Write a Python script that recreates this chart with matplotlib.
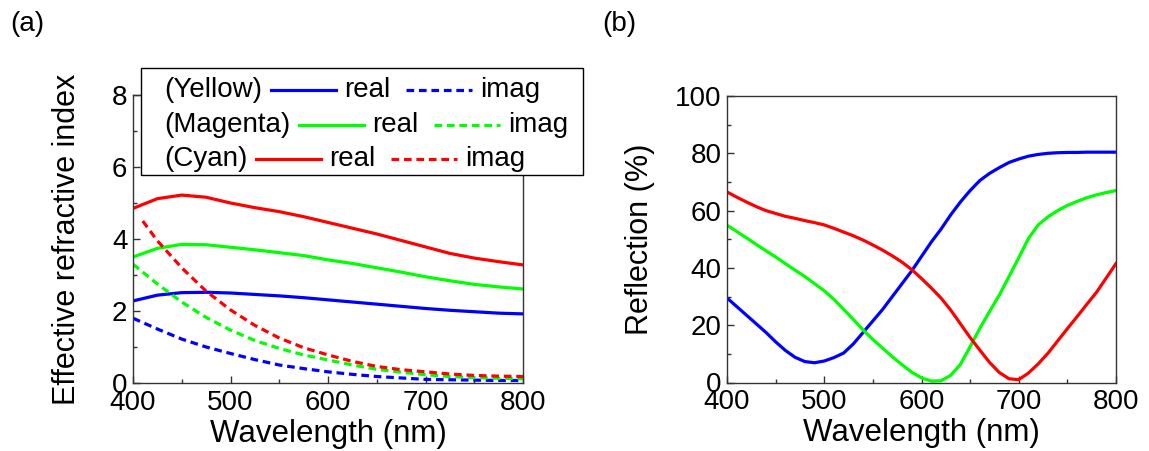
import numpy as np
import matplotlib
matplotlib.use('Agg')
import matplotlib.pyplot as plt
from matplotlib.lines import Line2D
from matplotlib.ticker import MultipleLocator
from matplotlib.offsetbox import TextArea, DrawingArea, HPacker, VPacker, AnchoredOffsetbox

plt.rcParams['font.family'] = ['Liberation Sans', 'DejaVu Sans']

# (a) effective refractive index
wl_a = [400, 425, 450, 475, 500, 525, 550, 575, 600, 625, 650, 675, 700, 725, 750, 775, 800]
yellow_real = [2.28, 2.44, 2.51, 2.52, 2.50, 2.46, 2.42, 2.37, 2.31, 2.25, 2.19, 2.13, 2.07, 2.02, 1.98, 1.94, 1.92]
yellow_imag = [1.80, 1.50, 1.22, 1.00, 0.82, 0.65, 0.50, 0.40, 0.31, 0.24, 0.18, 0.14, 0.10, 0.09, 0.08, 0.07, 0.07]
magenta_real = [3.50, 3.74, 3.85, 3.84, 3.77, 3.70, 3.62, 3.54, 3.42, 3.32, 3.20, 3.08, 2.95, 2.84, 2.74, 2.67, 2.61]
magenta_imag = [3.30, 2.75, 2.25, 1.82, 1.47, 1.18, 0.96, 0.78, 0.64, 0.50, 0.38, 0.30, 0.23, 0.18, 0.15, 0.13, 0.12]
cyan_real = [4.85, 5.12, 5.22, 5.16, 5.00, 4.87, 4.76, 4.62, 4.46, 4.30, 4.14, 3.96, 3.78, 3.60, 3.47, 3.37, 3.28]
wl_cyan_imag = [410, 425, 450, 475, 500, 525, 550, 575, 600, 625, 650, 675, 700, 725, 750, 775, 800]
cyan_imag = [4.50, 3.95, 3.20, 2.55, 2.03, 1.60, 1.25, 0.98, 0.78, 0.60, 0.46, 0.37, 0.31, 0.25, 0.21, 0.19, 0.18]

# (b) reflection (%)
wl_b = [400, 410, 420, 430, 440, 450, 460, 470, 480, 490, 500, 510, 520, 530, 540, 550, 560, 570, 580, 590,
        600, 610, 620, 630, 640, 650, 660, 670, 680, 690, 700, 710, 720, 730, 740, 750, 760, 770, 780, 790, 800]
refl_yellow = [29.5, 26.5, 23.5, 20.5, 17.5, 14.2, 11.2, 8.8, 7.3, 6.9, 7.5, 8.7, 10.3, 13.5, 17.5, 21.5, 25.5, 30.0, 34.5, 39.0,
               44.0, 49.0, 53.5, 58.5, 63.0, 67.0, 70.5, 73.0, 75.0, 76.8, 78.0, 79.0, 79.6, 80.0, 80.2, 80.3, 80.3, 80.4, 80.4, 80.4, 80.4]
refl_magenta = [54.9, 52.7, 50.5, 48.2, 46.0, 43.8, 41.5, 39.2, 37.0, 34.5, 32.0, 29.0, 25.5, 22.0, 18.3, 15.0, 12.0, 9.0, 6.2, 3.6,
                1.6, 0.5, 0.6, 2.5, 6.3, 12.5, 18.9, 24.8, 30.5, 37.0, 43.5, 50.3, 55.0, 57.8, 60.0, 61.8, 63.2, 64.5, 65.5, 66.3, 67.0]
refl_cyan = [66.5, 64.7, 63.0, 61.4, 60.0, 59.0, 58.0, 57.3, 56.5, 55.8, 55.0, 53.8, 52.5, 51.2, 49.7, 48.0, 46.2, 44.2, 42.0, 39.4,
             36.3, 33.0, 29.5, 25.3, 20.5, 15.7, 11.3, 7.0, 3.5, 1.3, 1.0, 3.3, 6.5, 10.2, 14.5, 18.8, 23.0, 27.3, 31.5, 36.5, 41.5]

names = ['(Yellow)', '(Magenta)', '(Cyan)']
colors = ['#0000ff', '#00ff00', '#ff0000']

W, H = 1149, 451
fig = plt.figure(figsize=(W / 100, H / 100), dpi=100)
axa = fig.add_axes([133 / W, 1 - 383 / H, 390 / W, 288 / H])
axb = fig.add_axes([727 / W, 1 - 382.5 / H, 389 / W, 286.5 / H])

lw = 2.3
dash = (0, (2.4, 1.5))

axa.plot(wl_a, yellow_real, color=colors[0], lw=lw)
axa.plot(wl_a, yellow_imag, color=colors[0], lw=lw, linestyle=dash)
axa.plot(wl_a, magenta_real, color=colors[1], lw=lw)
axa.plot(wl_a, magenta_imag, color=colors[1], lw=lw, linestyle=dash)
axa.plot(wl_a, cyan_real, color=colors[2], lw=lw)
axa.plot(wl_cyan_imag, cyan_imag, color=colors[2], lw=lw, linestyle=dash)

axb.plot(wl_b, refl_yellow, color=colors[0], lw=lw)
axb.plot(wl_b, refl_magenta, color=colors[1], lw=lw)
axb.plot(wl_b, refl_cyan, color=colors[2], lw=lw)

axa.set_xlim(400, 800)
axa.set_ylim(0, 8)
axa.yaxis.set_major_locator(MultipleLocator(2))
axa.yaxis.set_minor_locator(MultipleLocator(1))
axb.set_xlim(400, 800)
axb.set_ylim(0, 100)
axb.yaxis.set_major_locator(MultipleLocator(20))
axb.yaxis.set_minor_locator(MultipleLocator(10))

for ax in (axa, axb):
    ax.xaxis.set_major_locator(MultipleLocator(100))
    ax.xaxis.set_minor_locator(MultipleLocator(50))
    ax.tick_params(which='both', direction='in', top=False, right=False,
                   labelsize=20, width=1, color='#333333')
    ax.tick_params(which='major', length=5)
    ax.tick_params(which='minor', length=3)
    ax.tick_params(axis='x', pad=5)
    ax.tick_params(axis='y', pad=4)
    for s in ax.spines.values():
        s.set_color('#333333')
        s.set_linewidth(1)
    ax.set_xlabel('Wavelength (nm)', fontsize=22.5)

axa.set_ylabel('Effective refractive index', fontsize=22)
axb.set_ylabel('Reflection (%)', fontsize=22)
axa.xaxis.set_label_coords(0.5, -0.125)
axb.xaxis.set_label_coords(0.5, -0.125)
axa.yaxis.set_label_coords(-0.13, 0.5)
axb.yaxis.set_label_coords(-0.185, 0.5)

fig.text(10 / W, 1 - 11 / H, '(a)', fontsize=20, va='top')
fig.text(602 / W, 1 - 11 / H, '(b)', fontsize=20, va='top')

# legend built row by row
pt = 0.72  # points per pixel
rows = []
for name, c in zip(names, colors):
    d1 = DrawingArea(82 * pt, 10 * pt)
    d1.add_artist(Line2D([9 * pt, 74 * pt], [5 * pt, 5 * pt], color=c, lw=lw))
    d2 = DrawingArea(90 * pt, 10 * pt)
    d2.add_artist(Line2D([16 * pt, 82 * pt], [5 * pt, 5 * pt], color=c, lw=lw, linestyle=dash))
    row = HPacker(children=[TextArea(name, textprops=dict(fontsize=20)), d1,
                            TextArea('real', textprops=dict(fontsize=20)), d2,
                            TextArea('imag', textprops=dict(fontsize=20))],
                  sep=0, pad=0, align='center')
    rows.append(row)
vp = VPacker(children=rows, sep=6.3, pad=0, align='left')
vp = VPacker(children=[DrawingArea(1, 6 * pt), vp], sep=0, pad=0, align='left')
box = HPacker(children=[DrawingArea(20 * pt, 1), vp, DrawingArea(12 * pt, 1)],
              sep=0, pad=0, align='center')
ab = AnchoredOffsetbox(loc='upper left', child=box, pad=0.2, borderpad=0, frameon=True,
                       prop=dict(size=10),
                       bbox_to_anchor=(141 / W, 1 - 68 / H), bbox_transform=fig.transFigure)
ab.patch.set_edgecolor('black')
ab.patch.set_linewidth(1)
fig.add_artist(ab)

fig.savefig('out.png', dpi=100)
